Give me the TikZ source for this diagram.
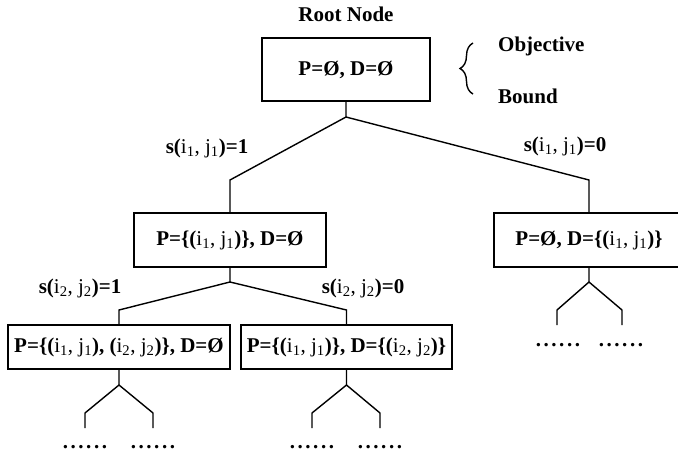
\documentclass[tikz,border=0pt]{standalone}
\usepackage{fontspec}
\setmainfont{Liberation Serif}
\usetikzlibrary{decorations.pathreplacing}
\newcommand{\pij}[1]{{\mdseries i\textsubscript{#1}, j\textsubscript{#1}}}
\tikzset{
    bnode/.style={draw, line width=1.4pt, inner sep=0pt, align=center,
        font=\fontsize{21}{24}\selectfont\bfseries},
    blabel/.style={inner sep=0pt, font=\fontsize{21}{24}\selectfont\bfseries},
    branch/.style={line width=1.4pt},
    dots/.style={inner sep=0pt, font=\fontsize{21}{24}\selectfont\bfseries\addfontfeature{LetterSpace=12}}
}

\begin{document}
\begin{tikzpicture}[x=1pt, y=-1pt]
        \useasboundingbox (0,0) rectangle (678,461);
        %draw the nodes of the tree
        \node[bnode, minimum width=168pt, minimum height=63pt](root) at (346,69.5){P=Ø, D=Ø};
        \node[blabel](rootlbl) at (346,14){Root Node};
        \node[bnode, minimum width=192pt, minimum height=54pt](left) at (230,240){P=\{(\pij{1})\}, D=Ø};
        \node[bnode, minimum width=190pt, minimum height=54pt](right) at (589,240){P=Ø, D=\{(\pij{1})\}};
        \node[bnode, minimum width=222pt, minimum height=44pt](ll) at (119,347){P=\{(\pij{1}), (\pij{2})\}, D=Ø};
        \node[bnode, minimum width=211pt, minimum height=44pt](lr) at (346.5,347){P=\{(\pij{1})\}, D=\{(\pij{2})\}};

        %objective and bound
        \draw[line width=1.4pt, decorate, decoration={brace, amplitude=13pt}]
            (473,94) -- (473,43);
        \node[blabel, anchor=west](obj) at (498,46){Objective};
        \node[blabel, anchor=west](bnd) at (498,96){Bound};

        %first level
        \coordinate (r0) at (346,117);
        \draw[branch] (root.south) -- (r0)
            (r0) -- (230,180) -- (left.north)
            (r0) -- (589,180) -- (right.north);
        \node[blabel](s11) at (207,148){s(\pij{1})=1};
        \node[blabel](s10) at (565,146){s(\pij{1})=0};

        %second level
        \coordinate (l0) at (230,282);
        \draw[branch] (left.south) -- (l0)
            (l0) -- (119,310) -- (ll.north)
            (l0) -- (346.5,310) -- (lr.north);
        \node[blabel](s21) at (80,288){s(\pij{2})=1};
        \node[blabel](s20) at (363,288){s(\pij{2})=0};

        %unexplored subtrees
        \coordinate (rs) at (589,282);
        \coordinate (lls) at (119,385);
        \coordinate (lrs) at (346.5,385);
        \draw[branch] (right.south) -- (rs) -- (557,310) -- (557,325)
            (rs) -- (622,310) -- (622,325);
        \draw[branch] (ll.south) -- (lls) -- (85,413) -- (85,428)
            (lls) -- (153,413) -- (153,428);
        \draw[branch] (lr.south) -- (lrs) -- (312,413) -- (312,428)
            (lrs) -- (380,413) -- (380,428);
        \node[dots](d1) at (558,345){......};
        \node[dots](d2) at (621,345){......};
        \node[dots](d3) at (85,447){......};
        \node[dots](d4) at (153,447){......};
        \node[dots](d5) at (312,447){......};
        \node[dots](d6) at (380,447){......};
\end{tikzpicture}
\end{document}
